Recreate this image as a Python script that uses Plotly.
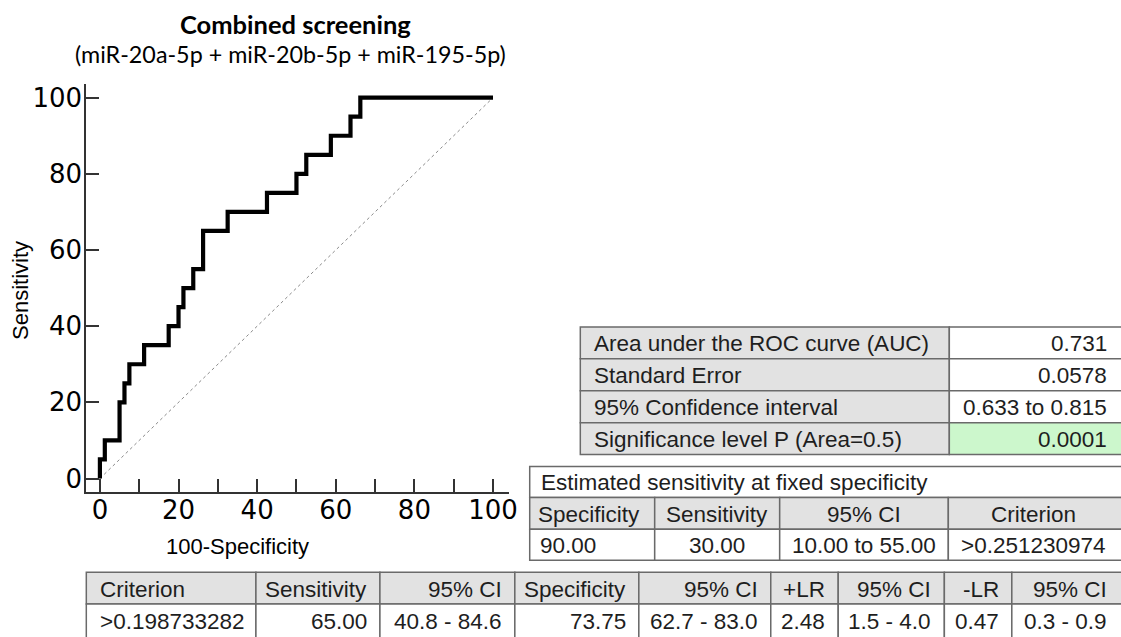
import plotly.graph_objects as go

# ROC operating points (100-Specificity, Sensitivity), drawn as a staircase
fpr = [0, 0, 1.25, 5, 6.25, 7.5, 11.25, 17.5, 20, 21.25, 23.75, 26.25,
       32.5, 42.5, 50, 52.5, 58.75, 63.75, 66.25, 100]
sensitivity = [0, 5, 10, 20, 25, 30, 35, 40, 45, 50, 55, 65,
               70, 75, 80, 85, 90, 95, 100, 100]
chance_x = [0, 100]
chance_y = [0, 100]

x_ticks = [0, 20, 40, 60, 80, 100]
y_ticks = [0, 20, 40, 60, 80, 100]

title_text = "<b>Combined screening</b>"
subtitle_text = "(miR-20a-5p + miR-20b-5p + miR-195-5p)"

# AUC summary table
auc_labels = ["Area under the ROC curve (AUC)", "Standard Error",
              "95% Confidence interval", "Significance level P (Area=0.5)"]
auc_values = ["0.731", "0.0578", "0.633 to 0.815", "0.0001"]

# Sensitivity at fixed specificity
fixed_title = "Estimated sensitivity at fixed specificity"
fixed_header = ["Specificity", "Sensitivity", "95% CI", "Criterion"]
fixed_row = ["90.00", "30.00", "10.00 to 55.00", ">0.251230974"]

# Optimal criterion table
crit_header = ["Criterion", "Sensitivity", "95% CI", "Specificity", "95% CI",
               "+LR", "95% CI", "-LR", "95% CI"]
crit_row = [">0.198733282", "65.00", "40.8 - 84.6", "73.75", "62.7 - 83.0",
            "2.48", "1.5 - 4.0", "0.47", "0.3 - 0.9"]

# ---------------------------------------------------------------- layout
W, H = 1121, 637
PLOT_L, PLOT_R, PLOT_T, PLOT_B = 87, 513, 83, 493
TABLE_FONT = "Liberation Sans, Arial, sans-serif"
TABLE_SIZE = 22.5
TEXT_COLOR = "#1e1e1e"
GRID_COLOR = "#6a6a6a"
HEAD_FILL = "#e2e2e2"
GOOD_FILL = "#ccf7cc"
RIGHT_EDGE = 1140  # tables run past the right side of the page
LAST_TEXT_X = 1117  # right end of text in the last (cut-off) column


def fx(p):
    return p / W


def fy(p):
    return 1 - p / H


fig = go.Figure()

fig.add_trace(go.Scatter(
    x=chance_x, y=chance_y, mode="lines",
    line=dict(color="#8a8a8a", width=1, dash="dot"),
    hoverinfo="skip", showlegend=False))

fig.add_trace(go.Scatter(
    x=fpr, y=sensitivity, mode="lines", line_shape="hv",
    line=dict(color="black", width=4.2),
    showlegend=False))

shapes = []
annotations = []


def cell(x0, y0, x1, y1, fill):
    shapes.append(dict(type="rect", xref="paper", yref="paper",
                       x0=fx(x0), x1=fx(x1), y0=fy(y1), y1=fy(y0),
                       fillcolor=fill, line=dict(color=GRID_COLOR, width=1.5),
                       layer="below"))


def label(text, x, y, anchor):
    annotations.append(dict(text=text, x=fx(x), y=fy(y), xref="paper", yref="paper",
                            xanchor=anchor, yanchor="middle", showarrow=False, borderpad=0,
                            font=dict(family=TABLE_FONT, size=TABLE_SIZE, color=TEXT_COLOR)))


# AUC table
auc_cols = [585, 957, RIGHT_EDGE]
auc_rows = [327, 359, 391, 423, 455]
for i, (lab, val) in enumerate(zip(auc_labels, auc_values)):
    y0, y1 = auc_rows[i], auc_rows[i + 1]
    cell(auc_cols[0], y0, auc_cols[1], y1, HEAD_FILL)
    cell(auc_cols[1], y0, auc_cols[2], y1, GOOD_FILL if i == len(auc_labels) - 1 else "white")
    yc = (y0 + y1) / 2 + 1
    label(lab, auc_cols[0] + 13, yc, "left")
    label(val, LAST_TEXT_X, yc, "right")

# Fixed-specificity table
fix_cols = [534, 660, 786, 956, RIGHT_EDGE]
fix_centers = [594, 723, 871, 1042]
fix_rows = [467, 498, 530, 561]
cell(fix_cols[0], fix_rows[0], fix_cols[-1], fix_rows[1], "white")
label(fixed_title, fix_cols[0] + 10, (fix_rows[0] + fix_rows[1]) / 2 + 1, "left")
for j in range(len(fixed_header)):
    xa, xb = fix_cols[j], fix_cols[j + 1]
    cell(xa, fix_rows[1], xb, fix_rows[2], HEAD_FILL)
    cell(xa, fix_rows[2], xb, fix_rows[3], "white")
    label(fixed_header[j], fix_centers[j], (fix_rows[1] + fix_rows[2]) / 2 + 1, "center")
    if j == 0:
        label(fixed_row[j], xa + 9, (fix_rows[2] + fix_rows[3]) / 2 + 1, "left")
    else:
        label(fixed_row[j], fix_centers[j], (fix_rows[2] + fix_rows[3]) / 2 + 1, "center")

# Criterion table
crit_cols = [87, 258, 383, 519, 644, 777, 845, 952, 1020, RIGHT_EDGE]
crit_rows = [573, 605, 645]
row_mid = [(573 + 605) / 2 + 1, (605 + 637) / 2 + 1]
for j in range(len(crit_header)):
    xa, xb = crit_cols[j], crit_cols[j + 1]
    cell(xa, crit_rows[0], xb, crit_rows[1], HEAD_FILL)
    cell(xa, crit_rows[1], xb, crit_rows[2], "white")
    right_x = LAST_TEXT_X if j == len(crit_header) - 1 else xb - 12
    for r, txt in ((0, crit_header[j]), (1, crit_row[j])):
        if j == 0:
            label(txt, xa + 13, row_mid[r], "left")
        else:
            label(txt, right_x, row_mid[r], "right")

# Titles
annotations.append(dict(text=title_text, x=fx(298), y=fy(23), xref="paper", yref="paper",
                        xanchor="center", yanchor="middle", showarrow=False,
                        font=dict(family="Lato, sans-serif", size=25.5, color="black")))
annotations.append(dict(text=subtitle_text, x=fx(293), y=fy(53), xref="paper", yref="paper",
                        xanchor="center", yanchor="middle", showarrow=False,
                        font=dict(family="Lato, sans-serif", size=23.3, color="black")))
annotations.append(dict(text="Sensitivity", x=fx(20), y=fy(290), xref="paper", yref="paper",
                        xanchor="center", yanchor="middle", showarrow=False, textangle=-90,
                        font=dict(family=TABLE_FONT, size=22, color="black")))
annotations.append(dict(text="100-Specificity", x=fx(239), y=fy(547), xref="paper", yref="paper",
                        xanchor="center", yanchor="middle", showarrow=False,
                        font=dict(family=TABLE_FONT, size=22, color="black")))

axis_common = dict(
    showgrid=False, zeroline=False, showline=True, linecolor="#333333", linewidth=2,
    ticks="inside", ticklen=13, tickwidth=2, tickcolor="#333333",
    tickfont=dict(family="DejaVu Sans, sans-serif", size=26, color="black"),
    fixedrange=True,
)

fig.update_layout(
    width=W, height=H,
    margin=dict(l=0, r=0, t=0, b=0),
    paper_bgcolor="white", plot_bgcolor="white",
    xaxis=dict(domain=[fx(PLOT_L), fx(PLOT_R)], range=[-3.46, 104.04],
               tickmode="array", tickvals=x_ticks, ticklabelstandoff=-7,
               minor=dict(dtick=10, ticks="inside", ticklen=13, tickwidth=2, tickcolor="#333333"),
               **axis_common),
    yaxis=dict(domain=[fy(PLOT_B), fy(PLOT_T)], range=[-3.66, 103.66],
               tickmode="array", tickvals=y_ticks, ticklabelstandoff=-3, **axis_common),
    shapes=shapes,
    annotations=annotations,
)

fig.write_html("out.html", config={"responsive": False, "displayModeBar": False})
